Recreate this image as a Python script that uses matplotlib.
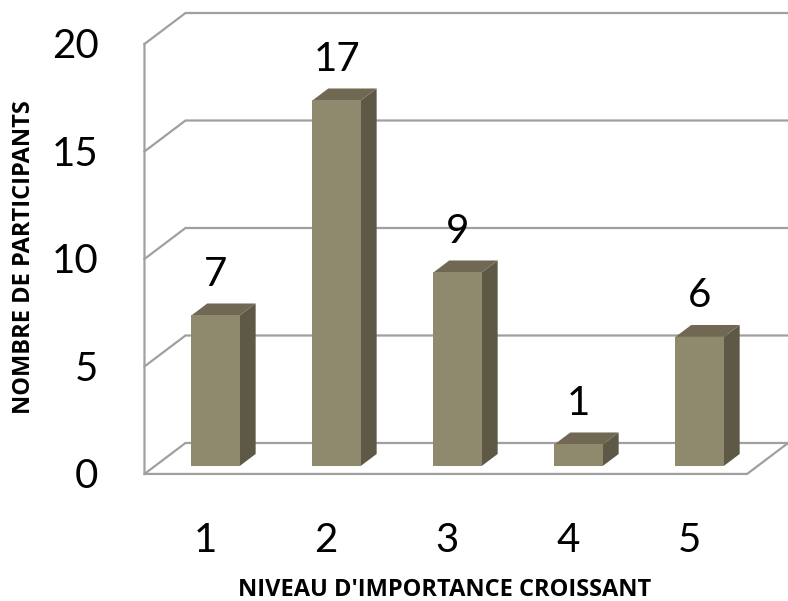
import matplotlib.pyplot as plt
from matplotlib.patches import Polygon

# data
categories = ["1", "2", "3", "4", "5"]
participants = [7, 17, 9, 1, 6]
y_ticks = [0, 5, 10, 15, 20]
x_title = "NIVEAU D'IMPORTANCE CROISSANT"
y_title = "NOMBRE DE PARTICIPANTS"

plt.rcParams['font.family'] = ['Lato', 'DejaVu Sans']

# fake 3d: depth d=0 is the back wall, d=1 the front edge
DX, DY = 0.339, 1.44
X_LEFT, X_RIGHT = 0.5, 5.48
D_FRONT, D_BACK = 0.74, 0.355
HALF_W = 0.2

def proj(x, y, d):
    return (x - d * DX, y - d * DY)

face_col = "#8f8a6e"
side_col = "#5e5846"
top_col = "#706852"
grid_col = "#a0a0a0"

fig = plt.figure(figsize=(7.88, 6.01), dpi=100)
ax = fig.add_axes([0, 0, 1, 1])
ax.set_xlim(-1.033, 5.479)
ax.set_ylim(-7.35, 20.605)
ax.axis("off")

# walls / grid
for t in y_ticks:
    pts = [proj(X_LEFT, t, 1), proj(X_LEFT, t, 0), proj(X_RIGHT + 0.05, t, 0)]
    ax.plot([p[0] for p in pts], [p[1] for p in pts], color=grid_col, lw=1.6, zorder=1,
            solid_joinstyle="miter")
pts = [proj(X_LEFT, y_ticks[-1], 1), proj(X_LEFT, 0, 1), proj(X_RIGHT, 0, 1), proj(X_RIGHT, 0, 0)]
ax.plot([p[0] for p in pts], [p[1] for p in pts], color=grid_col, lw=1.6, zorder=1,
        solid_joinstyle="miter")

# bars
for i, v in enumerate(participants):
    x = i + 1
    front = [proj(x - HALF_W, 0, D_FRONT), proj(x + HALF_W, 0, D_FRONT),
             proj(x + HALF_W, v, D_FRONT), proj(x - HALF_W, v, D_FRONT)]
    side = [proj(x + HALF_W, 0, D_FRONT), proj(x + HALF_W, 0, D_BACK),
            proj(x + HALF_W, v, D_BACK), proj(x + HALF_W, v, D_FRONT)]
    top = [proj(x - HALF_W, v, D_FRONT), proj(x + HALF_W, v, D_FRONT),
           proj(x + HALF_W, v, D_BACK), proj(x - HALF_W, v, D_BACK)]
    ax.add_patch(Polygon(side, closed=True, fc=side_col, ec="none", zorder=3))
    ax.add_patch(Polygon(top, closed=True, fc=top_col, ec="none", zorder=3))
    ax.add_patch(Polygon(front, closed=True, fc=face_col, ec="none", zorder=4))
    lx, ly = proj(x, v, D_BACK)
    ax.annotate(str(v), xy=(proj(x, v, D_FRONT)[0], ly), xytext=(0, 29),
                textcoords="offset pixels", ha="center", va="center",
                fontsize=29, color="black", zorder=5)

# tick labels
for t in y_ticks:
    px, py = proj(X_LEFT, t, 1)
    ax.annotate(str(t), xy=(px, py), xytext=(-46, -3), textcoords="offset pixels",
                ha="right", va="center", fontsize=29)
for i, c in enumerate(categories):
    px, py = proj(i + 1, 0, 1)
    ax.annotate(c, xy=(px, py), xytext=(0, -67), textcoords="offset pixels",
                ha="center", va="center", fontsize=29)

title_font = dict(family=["Open Sans", "DejaVu Sans"], fontsize=17, fontweight="bold")
fig.text(445 / 788, 1 - 590 / 601, x_title, ha="center", va="center", **title_font)
fig.text(24 / 788, 1 - 257 / 601, y_title, ha="center", va="center",
         rotation=90, **title_font)

fig.savefig("out.png", dpi=100)
